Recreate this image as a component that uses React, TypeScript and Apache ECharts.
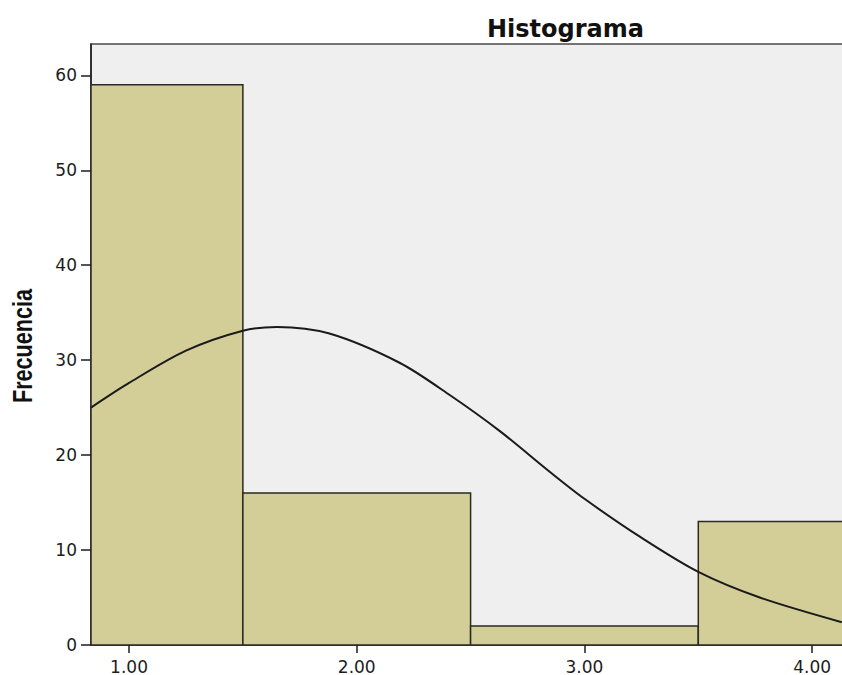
import React, { useEffect, useRef } from "react";
import * as echarts from "echarts";

// Histogram bins (class limits) and frequencies
const binStarts = [0.5, 1.5, 2.5, 3.5];
const binEnds = [1.5, 2.5, 3.5, 4.5];
const frequencies = [59, 16, 2, 13];

// Normal curve
const curveX = [0.833, 1.0, 1.25, 1.5, 1.65, 1.88, 2.19, 2.41, 2.63, 2.85, 3.0, 3.25, 3.5, 3.77, 4.13];
const curveY = [25.0, 27.6, 31.0, 33.1, 33.5, 32.8, 29.7, 26.3, 22.5, 18.2, 15.4, 11.3, 7.7, 5.0, 2.4];

// Tick labels
const yTicks = [0, 10, 20, 30, 40, 50, 60];
const xTicks = [1, 2, 3, 4];

const BAR_FILL = "#d3ce98";
const DARK = "#1c1c1c";

export default function App() {
  const ref = useRef<HTMLDivElement>(null);

  useEffect(() => {
    if (!ref.current) return;
    const chart = echarts.init(ref.current, undefined, { renderer: "svg" });

    const histData = binStarts.map((s, i) => [s, binEnds[i], frequencies[i]]);
    const curveData = curveX.map((x, i) => [x, curveY[i]]);

    chart.setOption({
      animation: false,
      backgroundColor: "#ffffff",
      title: {
        text: "Histograma",
        left: 482,
        top: 12,
        textStyle: {
          fontFamily: "DejaVu Sans",
          fontWeight: "bold",
          fontSize: 24,
          color: "#111111",
        },
      },
      graphic: [
        {
          type: "text",
          x: 23,
          y: 346,
          rotation: Math.PI / 2,
          scaleX: 0.8,
          style: {
            text: "Frecuencia",
            fontFamily: "'Liberation Sans', sans-serif",
            fontWeight: "bold",
            fontSize: 27,
            fill: "#111111",
            align: "center",
            verticalAlign: "middle",
          },
        },
      ],
      grid: {
        left: 91,
        right: 34,
        top: 44,
        bottom: 28,
        show: true,
        backgroundColor: "#efefef",
        borderColor: "#4a4a4a",
        borderWidth: 1.5,
      },
      xAxis: {
        type: "value",
        min: 0.833,
        max: 4.5,
        axisLine: { show: true, onZero: false, lineStyle: { color: DARK, width: 1.5 } },
        axisTick: {
          show: true,
          customValues: xTicks,
          length: 8,
          lineStyle: { color: DARK, width: 1.5 },
        },
        axisLabel: {
          customValues: xTicks,
          formatter: (v: number) => v.toFixed(2),
          margin: 13,
          fontFamily: "DejaVu Sans",
          fontSize: 17,
          color: DARK,
        },
        splitLine: { show: false },
      },
      yAxis: {
        type: "value",
        min: 0,
        max: 63.3,
        axisLine: { show: true, lineStyle: { color: DARK, width: 1.5 } },
        axisTick: {
          show: true,
          customValues: yTicks,
          length: 10,
          lineStyle: { color: DARK, width: 1.5 },
        },
        axisLabel: {
          customValues: yTicks,
          margin: 14,
          fontFamily: "DejaVu Sans",
          fontSize: 17,
          color: DARK,
        },
        splitLine: { show: false },
      },
      series: [
        {
          type: "custom",
          clip: true,
          encode: { x: [0, 1], y: 2 },
          data: histData,
          renderItem: (params: any, api: any) => {
            const tl = api.coord([api.value(0), api.value(2)]);
            const br = api.coord([api.value(1), 0]);
            const cs = params.coordSys;
            const x0 = Math.max(tl[0], cs.x);
            const x1 = Math.min(br[0], cs.x + cs.width);
            return {
              type: "rect",
              shape: { x: x0, y: tl[1], width: x1 - x0, height: br[1] - tl[1] },
              style: { fill: BAR_FILL, stroke: "#2a2a22", lineWidth: 1.5 },
            };
          },
          z: 2,
        },
        {
          type: "line",
          data: curveData,
          smooth: 0.3,
          showSymbol: false,
          symbol: "none",
          lineStyle: { color: "#1a1a1a", width: 2 },
          z: 3,
        },
      ],
    });

    return () => chart.dispose();
  }, []);

  return (
    <div
      style={{
        position: "fixed",
        left: 0,
        top: 0,
        width: 842,
        height: 675,
        overflow: "hidden",
        background: "#ffffff",
      }}
    >
      <div ref={ref} style={{ width: 960, height: 675 }} />
    </div>
  );
}
